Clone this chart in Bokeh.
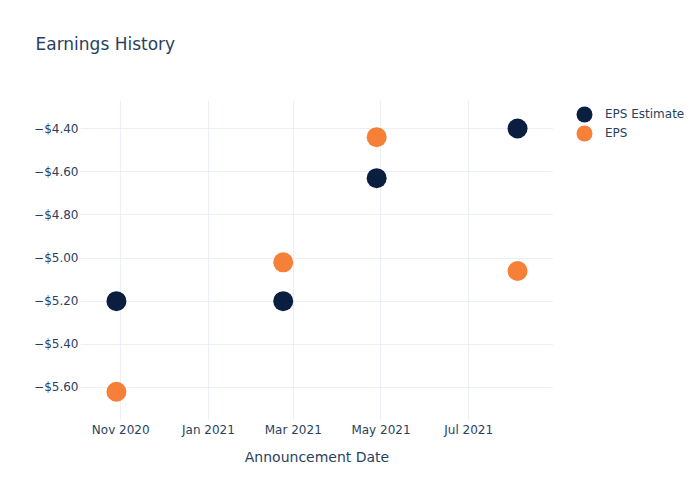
from datetime import datetime
from bokeh.plotting import figure
from bokeh.layouts import row, column
from bokeh.models import (ColumnDataSource, Range1d, FixedTicker, CustomJSTickFormatter,
                          Legend, LegendItem)
from bokeh.embed import file_html
from bokeh.resources import INLINE

# ---- data ----
dates = [datetime(2020, 10, 29), datetime(2021, 2, 22), datetime(2021, 4, 28), datetime(2021, 8, 4)]
eps_estimate = [-5.20, -5.20, -4.63, -4.40]
eps_actual = [-5.62, -5.02, -4.44, -5.06]
series_names = ["EPS Estimate", "EPS"]
x_tick_dates = [datetime(2020, 11, 1), datetime(2021, 1, 1), datetime(2021, 3, 1),
                datetime(2021, 5, 1), datetime(2021, 7, 1)]
x_tick_labels = ["Nov 2020", "Jan 2021", "Mar 2021", "May 2021", "Jul 2021"]
y_ticks = [-4.4, -4.6, -4.8, -5.0, -5.2, -5.4, -5.6]
title_text = "Earnings History"

FONT = "DejaVu Sans"
TXT = "#2a3f5f"
GRID = "#ebf0f8"
C_EST = "#0a1f40"
C_EPS = "#f68038"

def ms(d):
    return (d - datetime(1970, 1, 1)).total_seconds() * 1000.0

def blank(fig):
    fig.grid.visible = False
    fig.outline_line_color = None
    fig.background_fill_color = "white"
    fig.border_fill_color = "white"

# ---- title strip ----
t = figure(width=700, height=100, output_backend="svg", toolbar_location=None,
           x_axis_location=None, y_axis_location=None,
           min_border_left=0, min_border_right=0, min_border_top=0, min_border_bottom=0)
blank(t)
t.title.text = title_text
t.title.text_font = FONT
t.title.text_font_size = "17px"
t.title.text_font_style = "normal"
t.title.text_color = TXT
t.title.vertical_align = "top"
t.title.standoff = 66
t.title.offset = 35

# ---- main plot ----
p = figure(width=553, height=400, output_backend="svg", toolbar_location=None,
           x_axis_type="datetime",
           x_range=Range1d(ms(datetime(2020, 10, 4)), ms(datetime(2021, 8, 29))),
           y_range=Range1d(-5.753, -4.27),
           min_border_left=80, min_border_right=0, min_border_top=0, min_border_bottom=80)
p.background_fill_color = "white"
p.border_fill_color = "white"
p.outline_line_color = None

src_est = ColumnDataSource(dict(x=dates, y=eps_estimate))
src_eps = ColumnDataSource(dict(x=dates, y=eps_actual))
p.scatter("x", "y", source=src_est, size=20, color=C_EST, line_color=None)
p.scatter("x", "y", source=src_eps, size=20, color=C_EPS, line_color=None)

xa = p.xaxis[0]
xa.ticker = FixedTicker(ticks=[ms(d) for d in x_tick_dates])
xa.major_label_overrides = {ms(d): lab for d, lab in zip(x_tick_dates, x_tick_labels)}
xa.axis_label = "Announcement Date"
ya = p.yaxis[0]
ya.ticker = FixedTicker(ticks=y_ticks)
ya.formatter = CustomJSTickFormatter(code="return (tick < 0 ? '\u2212' : '') + '$' + Math.abs(tick).toFixed(2);")

for ax in (xa, ya):
    ax.axis_line_color = None
    ax.major_tick_line_color = None
    ax.minor_tick_line_color = None
    ax.major_tick_out = 0
    ax.major_tick_in = 0
    ax.minor_tick_out = 0
    ax.major_label_text_font = FONT
    ax.major_label_text_font_size = "12px"
    ax.major_label_text_color = TXT
    ax.axis_label_text_font = FONT
    ax.axis_label_text_font_size = "14px"
    ax.axis_label_text_font_style = "normal"
    ax.axis_label_text_color = TXT
xa.major_label_standoff = 2
xa.axis_label_standoff = 9
ya.major_label_standoff = 2

p.xgrid.grid_line_color = GRID
p.ygrid.grid_line_color = GRID

# ---- legend strip (separate figure so the legend is not clipped by the plot frame) ----
q = figure(width=147, height=400, output_backend="svg", toolbar_location=None,
           x_axis_location=None, y_axis_location=None,
           x_range=Range1d(0, 1), y_range=Range1d(0, 1),
           min_border_left=0, min_border_right=0, min_border_top=0, min_border_bottom=0)
blank(q)
# legend proxies share the data sources; the data lie outside this strip's ranges
l1 = q.scatter("x", "y", source=src_est, color=C_EST, line_color=None)
l2 = q.scatter("x", "y", source=src_eps, color=C_EPS, line_color=None)

def make_legend(label, rend, loc):
    return Legend(items=[LegendItem(label=label, renderers=[rend])],
                  location=loc, padding=0, margin=0, spacing=0,
                  glyph_height=40, glyph_width=40, label_height=19, label_standoff=1,
                  label_text_font=FONT, label_text_font_size="12px", label_text_color=TXT,
                  background_fill_alpha=0, border_line_color=None)

q.add_layout(make_legend(series_names[0], l1, (11, 286)), "center")
q.add_layout(make_legend(series_names[1], l2, (11, 267)), "center")

layout = column(t, row(p, q, spacing=0), spacing=0)
open("out.html", "w").write(file_html(layout, INLINE))
